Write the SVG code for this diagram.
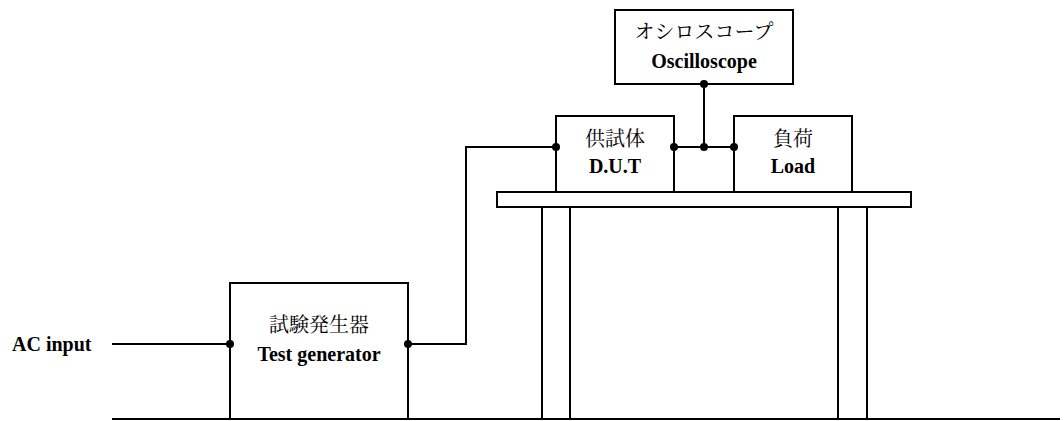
<svg xmlns="http://www.w3.org/2000/svg" width="1064" height="421" viewBox="0 0 1064 421">
<style>
.box{fill:#fff;stroke:#000;stroke-width:2}
.ln{fill:none;stroke:#000;stroke-width:2}
.dot{fill:#000}
.en{font-family:"Liberation Serif","Times New Roman",serif;font-weight:bold;font-size:20px;fill:#000}
.jp{font-family:"Noto Serif CJK JP","Liberation Serif","Noto Sans CJK JP",serif;font-size:20px;fill:#000}
</style>
<rect width="1064" height="421" fill="#fff"/>
<g id="table">
<rect class="box" x="497" y="192" width="414" height="15"/>
<line class="ln" x1="542" y1="207" x2="542" y2="419"/>
<line class="ln" x1="570" y1="207" x2="570" y2="419"/>
<line class="ln" x1="838" y1="207" x2="838" y2="419"/>
<line class="ln" x1="867" y1="207" x2="867" y2="419"/>
</g>
<g id="connectors">
<line class="ln" x1="112" y1="419" x2="1060" y2="419"/>
<line class="ln" x1="112" y1="344" x2="230" y2="344"/>
<polyline class="ln" points="408,344 466,344 466,147 556,147"/>
<line class="ln" x1="674" y1="147" x2="734" y2="147"/>
<line class="ln" x1="704" y1="84" x2="704" y2="147"/>
</g>
<g id="generator">
<rect class="box" x="230" y="283" width="178" height="136"/>
<text class="jp" x="319" y="332" text-anchor="middle">試験発生器</text>
<text class="en" x="319" y="361" text-anchor="middle">Test generator</text>
</g>
<g id="oscilloscope">
<rect class="box" x="615" y="10" width="178" height="74"/>
<text class="jp" x="704" y="39" text-anchor="middle">オシロスコープ</text>
<text class="en" x="704" y="68" text-anchor="middle">Oscilloscope</text>
</g>
<g id="dut">
<rect class="box" x="556" y="116" width="118" height="76"/>
<text class="jp" x="615" y="146" text-anchor="middle">供試体</text>
<text class="en" x="615" y="173" text-anchor="middle">D.U.T</text>
</g>
<g id="load">
<rect class="box" x="734" y="116" width="118" height="76"/>
<text class="jp" x="793" y="146" text-anchor="middle">負荷</text>
<text class="en" x="793" y="173" text-anchor="middle">Load</text>
</g>
<g id="ac-input">
<text class="en" x="12" y="351">AC input</text>
</g>
<g id="dots">
<circle class="dot" cx="230" cy="344" r="4"/>
<circle class="dot" cx="408" cy="344" r="4"/>
<circle class="dot" cx="556" cy="147" r="4"/>
<circle class="dot" cx="674" cy="147" r="4"/>
<circle class="dot" cx="704" cy="147" r="4"/>
<circle class="dot" cx="734" cy="147" r="4"/>
<circle class="dot" cx="704" cy="84" r="4"/>
</g>
</svg>
